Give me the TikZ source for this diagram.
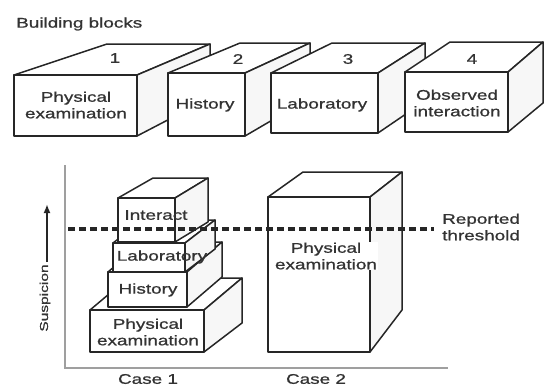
\documentclass[tikz,border=0pt]{standalone}
\usepackage{fontspec}
\newfontfamily\lblfont[FakeStretch=1.35,FakeBold=0.9]{Liberation Sans}
\usetikzlibrary{arrows.meta}

% A solid block: front rectangle (#1,#2)-(#3,#4), top face pushed back by
% #5 (left) / #6 (right) horizontally and #7 vertically, right face whose
% lower back corner is lifted by #8.
\newcommand\drawblock[8]{%
  \path[facestyle] (#1,#2) -- ({#1+#5},{#2+#7}) -- ({#3+#6},{#2+#7}) -- (#3,#2) -- cycle;
  \path[sidestyle] (#3,#2) -- ({#3+#6},{#2+#7}) -- ({#3+#6},{#4+#8}) -- (#3,#4) -- cycle;
  \path[facestyle] (#1,#2) rectangle (#3,#4);
}

\begin{document}
\begin{tikzpicture}[x=1pt,y=-1pt,
  edge/.style={draw=black!85, line width=1.5pt, line join=round},
  facestyle/.style={edge, fill=white},
  sidestyle/.style={edge, fill=gray!6},
  lbl/.style={font=\lblfont\fontsize{14}{16.5}\selectfont, align=center, inner sep=1pt, text=black!80},
  smalllbl/.style={font=\lblfont\fontsize{11.5}{13}\selectfont, inner sep=1pt, text=black!80},
  axis/.style={draw=gray!75, line width=2.2pt},
  threshold/.style={draw=black!85, line width=3.2pt, dash pattern=on 7pt off 4pt}]

\useasboundingbox (0,0) rectangle (545,386);

% ---- building blocks row ----
\node[lbl, anchor=west] (title) at (15,24) {Building blocks};

\drawblock{14}{75}{137}{136}{93}{73}{-31}{-38}
\drawblock{168}{73}{245}{136}{72}{65}{-30}{-38}
\drawblock{271}{73}{378}{133}{61}{47}{-30}{-32}
\drawblock{405}{72}{508}{132}{45}{35}{-30}{-29}

\node[lbl] (n1) at (115,58) {1};
\node[lbl] (n2) at (238,59) {2};
\node[lbl] (n3) at (348,59) {3};
\node[lbl] (n4) at (472,59) {4};

\node[lbl] (b1) at (76,105) {Physical\\examination};
\node[lbl] (b2) at (205,105) {History};
\node[lbl] (b3) at (322,105) {Laboratory};
\node[lbl] (b4) at (457,103) {Observed\\interaction};

% ---- axes ----
\coordinate (ytop) at (65,165);
\coordinate (orig) at (65,368);
\coordinate (xend) at (448,368);
\draw[axis] (ytop) -- (orig) -- (xend);

\coordinate (sbase) at (47,262);
\coordinate (stip) at (47,204);
\draw[line width=2pt, draw=black!85, -{Latex[length=9pt,width=7pt]}] (sbase) -- (stip);
\node[smalllbl, rotate=90] (susp) at (45,298) {Suspicion};

% ---- case 1: stacked blocks ----
\drawblock{90}{310}{204}{352}{38}{38}{-32}{-29}
\drawblock{108}{272}{187}{307}{35}{35}{-30}{-30}
\drawblock{113}{243}{185}{272}{30}{30}{-23}{-23}
\drawblock{118}{198}{175}{242}{35}{33}{-20}{-20}

\node[lbl] (c1i) at (156,215) {Interact};
\node[lbl] (c1l) at (162,257) {Laboratory};
\node[lbl] (c1h) at (148,290) {History};
\node[lbl] (c1p) at (148,332) {Physical\\examination};

% ---- case 2: one tall block ----
\drawblock{268}{197}{370}{352}{35}{32}{-25}{-42}
\node[lbl, fill=white] (c2p) at (326,256) {Physical\\examination};

% ---- threshold ----
\coordinate (tl) at (68,229);
\coordinate (tr) at (434,229);
\draw[threshold] (tl) -- (tr);
\node[lbl, anchor=west, align=left] (rep) at (441,227) {Reported\\threshold};

% ---- case labels ----
\node[lbl] (case1) at (148,379) {Case 1};
\node[lbl] (case2) at (316,379) {Case 2};

\end{tikzpicture}
\end{document}
